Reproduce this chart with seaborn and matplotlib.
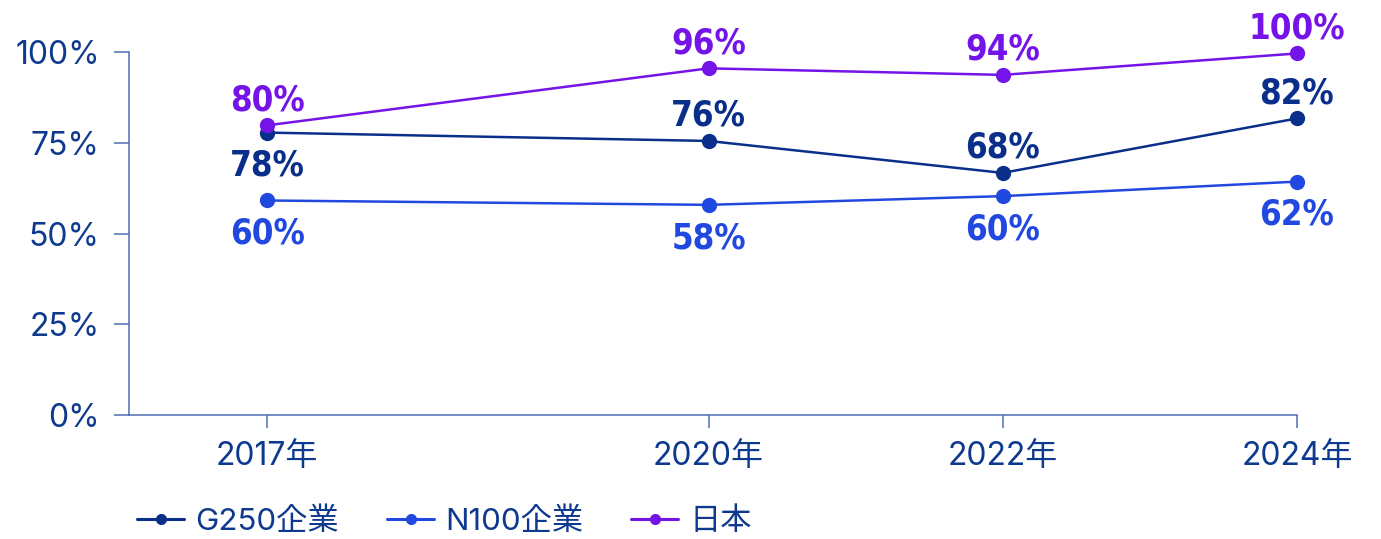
import pandas as pd
import matplotlib.pyplot as plt
import seaborn as sns

# data
years = [2017, 2020, 2022, 2024]
year_labels = ['2017年', '2020年', '2022年', '2024年']
series = ['G250企業', 'N100企業', '日本']
g250 = [77.8, 75.5, 66.7, 81.7]
n100 = [59.1, 57.9, 60.3, 64.3]
japan = [79.8, 95.5, 93.7, 99.6]
g250_labels = ['78%', '76%', '68%', '82%']
n100_labels = ['60%', '58%', '60%', '62%']
japan_labels = ['80%', '96%', '94%', '100%']
y_ticks = [0, 25, 50, 75, 100]

colors = {'G250企業': '#0a2f8a', 'N100企業': '#2149e0', '日本': '#7414e8'}
text_color = '#0d3a8e'
spine_color = '#4d6fb3'

sns.set_theme(style="white")
plt.rcParams['font.family'] = ['Inter', 'Noto Sans CJK JP', 'DejaVu Sans']

df = pd.DataFrame({
    'year': years * 3,
    'value': g250 + n100 + japan,
    'series': [s for s in series for _ in years],
})

fig = plt.figure(figsize=(13.81, 5.39), dpi=100)
ax = fig.add_axes([0.0934, 0.230, 0.8457, 0.6735])

sns.lineplot(data=df, x='year', y='value', hue='series', palette=colors,
             marker='o', markersize=11, markeredgewidth=0, linewidth=1.8,
             ax=ax, legend=False, clip_on=False)

ax.set_xlim(2016.06, 2024.0)
ax.set_ylim(0, 100)
ax.set_xticks(years)
ax.set_xticklabels(year_labels)
ax.set_yticks(y_ticks)
ax.set_yticklabels([f'{t}%' for t in y_ticks])
ax.set_xlabel('')
ax.set_ylabel('')

for side in ['top', 'right']:
    ax.spines[side].set_visible(False)
for side in ['left', 'bottom']:
    ax.spines[side].set_color(spine_color)
    ax.spines[side].set_linewidth(1.1)
ax.tick_params(axis='both', colors=spine_color, labelcolor=text_color,
               labelsize=23, width=1.1, bottom=True, left=True)
ax.tick_params(axis='y', length=11, pad=10)
ax.tick_params(axis='x', length=9, pad=10)

# value labels (condensed bold)
label_font = dict(family=['DejaVu Sans'], fontstretch='condensed',
                  fontweight='bold', fontsize=25, ha='center', va='center')
up, down = 18, -24
offsets = {
    'G250企業': [down, up, up, up],
    'N100企業': [down, down, down, down],
    '日本': [up, up, up, up],
}
for name, vals, labs in [('G250企業', g250, g250_labels),
                         ('N100企業', n100, n100_labels),
                         ('日本', japan, japan_labels)]:
    for x, v, lab, off in zip(years, vals, labs, offsets[name]):
        ax.annotate(lab, (x, v), xytext=(0, off), textcoords='offset points',
                    color=colors[name], **label_font)

# legend below
handles = [plt.Line2D([], [], color=colors[s], marker='o', markersize=7,
                      linewidth=2.2) for s in series]
leg = fig.legend(handles, series, loc='center left', bbox_to_anchor=(0.079, 0.032),
                 ncol=3, frameon=False, fontsize=22.5, handlelength=1.5,
                 handletextpad=0.35, columnspacing=1.55)
for t in leg.get_texts():
    t.set_color(text_color)

fig.savefig('out.png', dpi=100)
